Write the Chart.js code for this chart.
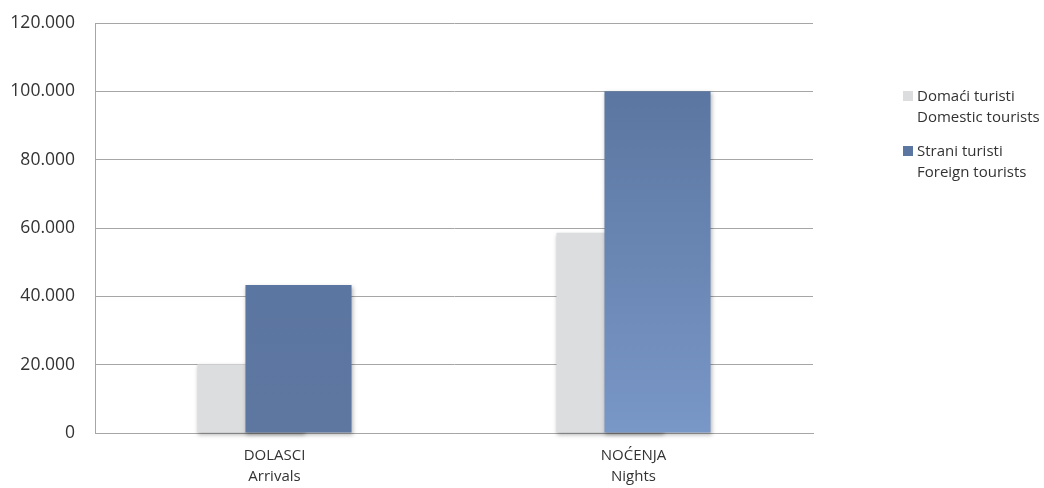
<!DOCTYPE html>
<html>
<head>
<meta charset="utf-8">
<script src="https://cdn.jsdelivr.net/npm/chart.js@4.4.1/dist/chart.umd.min.js"></script>
<style>
  html, body { margin: 0; padding: 0; background: #ffffff; }
  #wrap { position: relative; width: 1044px; height: 488px; }
  #legend { position: absolute; left: 903px; top: 85px; font-family: "Open Sans", sans-serif; font-size: 15px; color: #333333; }
  .item { position: relative; padding-left: 14px; line-height: 21px; margin-bottom: 13px; }
  .sw { position: absolute; left: 0; top: 6px; width: 10px; height: 10px; }
</style>
</head>
<body>
<div id="wrap">
  <canvas id="c" width="1044" height="488"></canvas>
  <div id="legend"></div>
</div>
<script>
// ---- data ----
const categories = [["DOLASCI", "Arrivals"], ["NOĆENJA", "Nights"]];
const seriesNames = [["Domaći turisti", "Domestic tourists"], ["Strani turisti", "Foreign tourists"]];
const domesticValues = [20100, 58600];
const foreignValues = [43300, 100000];
const yTicks = [0, 20000, 40000, 60000, 80000, 100000, 120000];

// ---- styles ----
const domesticColor = "#dcdddf";
const foreignTop = "#5b76a0";
const foreignBottoms = ["#5d77a1", "#7997c7"];
const gridColor = "#a6a6a6";
const textColor = "#333333";

function fmt(v) {
  return String(v).replace(/\B(?=(\d{3})+(?!\d))/g, ".");
}

function foreignFill(ctx) {
  const chart = ctx.chart;
  const ys = chart.scales && chart.scales.y;
  if (ctx.type !== "data" || !ys) return foreignTop;
  const top = ys.getPixelForValue(foreignValues[ctx.dataIndex]);
  const base = ys.getPixelForValue(0);
  if (!isFinite(top) || !isFinite(base) || top === base) return foreignTop;
  const g = chart.ctx.createLinearGradient(0, top, 0, base);
  g.addColorStop(0, foreignTop);
  g.addColorStop(1, foreignBottoms[ctx.dataIndex]);
  return g;
}

// draws the library's bar datasets in index order (domestic first, foreign on top) with a soft shadow
const orderShadowPlugin = {
  id: "orderShadow",
  beforeDatasetsDraw(chart) {
    const c = chart.ctx;
    c.save();
    c.shadowColor = "rgba(0,0,0,0.28)";
    c.shadowBlur = 4;
    c.shadowOffsetX = 1;
    c.shadowOffsetY = 2;
    chart.data.datasets.forEach((d, i) => {
      const meta = chart.getDatasetMeta(i);
      if (chart.isDatasetVisible(i)) meta.controller.draw();
    });
    c.restore();
  },
  beforeDatasetDraw() { return false; }
};

new Chart(document.getElementById("c"), {
  type: "bar",
  data: {
    labels: categories,
    datasets: [
      { label: seriesNames[0].join(" "), data: domesticValues, backgroundColor: domesticColor,
        categoryPercentage: 0.2674, barPercentage: 2.21, clip: false },
      { label: seriesNames[1].join(" "), data: foreignValues, backgroundColor: foreignFill,
        categoryPercentage: 0.2674, barPercentage: 2.21, clip: false }
    ]
  },
  options: {
    responsive: false,
    devicePixelRatio: 1,
    animation: false,
    layout: { padding: { left: 0, top: 23, right: 231, bottom: 0 } },
    plugins: { legend: { display: false }, tooltip: { enabled: false } },
    scales: {
      x: {
        grid: { display: false },
        border: { display: true, color: gridColor, width: 1 },
        ticks: { color: textColor, font: { family: "Open Sans", size: 15, lineHeight: 1.4 }, padding: 4, maxRotation: 0 },
        afterFit(s) { s.height = 55; s.paddingLeft = 0; s.paddingRight = 0; }
      },
      y: {
        min: 0, max: 120000,
        afterBuildTicks(s) { s.ticks = yTicks.map(v => ({ value: v })); },
        grid: { color: gridColor, drawTicks: false, lineWidth: 1 },
        border: { display: true, color: gridColor, width: 1 },
        ticks: { color: textColor, font: { family: "Open Sans", size: 17.5 }, padding: 20, callback: v => fmt(v) },
        afterFit(s) { s.width = 95; s.paddingTop = 0; s.paddingBottom = 0; }
      }
    }
  },
  plugins: [orderShadowPlugin]
});

// ---- legend ----
const legendColors = [domesticColor, foreignTop];
const lg = document.getElementById("legend");
seriesNames.forEach((n, i) => {
  const d = document.createElement("div");
  d.className = "item";
  d.innerHTML = '<span class="sw" style="background:' + legendColors[i] + '"></span>' + n[0] + "<br>" + n[1];
  lg.appendChild(d);
});
</script>
</body>
</html>
